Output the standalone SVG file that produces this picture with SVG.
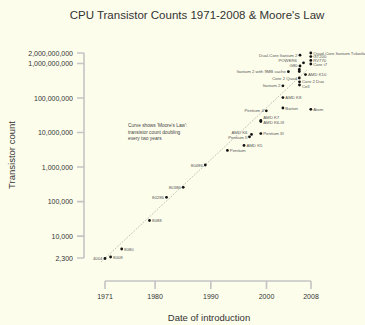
<svg xmlns="http://www.w3.org/2000/svg" width="365" height="325" viewBox="0 0 365 325">
<style>
text{font-family:"Liberation Sans",Arial,sans-serif;fill:#333}
.title{font-size:11.5px;text-anchor:middle}
.axt{font-size:9.5px;text-anchor:middle}
.yl{font-size:7px;text-anchor:end}
.xl{font-size:7px;text-anchor:middle}
.axis{stroke:#c4c4c4;stroke-width:1.6;fill:none}
.lab{font-size:4.3px;fill:#555}
.L{text-anchor:end}
.note{font-size:4.8px;fill:#444}
.pt{fill:#111}
.moore{stroke:#777;stroke-width:0.6;stroke-dasharray:1 1.4;fill:none}
</style>
<rect width="365" height="325" fill="#fdfdec"/>
<text class="title" x="197" y="19">CPU Transistor Counts 1971-2008 &amp; Moore's Law</text>
<g id="y-axis">
<path class="axis" d="M84 53V258M77 53H84M77 63.5H84M77 98H84M77 132.5H84M77 167H84M77 201.6H84M77 236.1H84M77 258H84"/>
<text class="yl" x="73" y="55.5">2,000,000,000</text>
<text class="yl" x="73" y="66">1,000,000,000</text>
<text class="yl" x="73" y="100.5">100,000,000</text>
<text class="yl" x="73" y="135">10,000,000</text>
<text class="yl" x="73" y="169.5">1,000,000</text>
<text class="yl" x="73" y="204">100,000</text>
<text class="yl" x="73" y="238.6">10,000</text>
<text class="yl" x="73" y="260.5">2,300</text>
<text class="axt" transform="translate(15 155) rotate(-90)">Transistor count</text>
</g>
<g id="x-axis">
<path class="axis" d="M105 281H311M105 281V289M155.1 281V289M210.8 281V289M266.5 281V289M311 281V289"/>
<text class="xl" x="105" y="299">1971</text>
<text class="xl" x="155.1" y="299">1980</text>
<text class="xl" x="210.8" y="299">1990</text>
<text class="xl" x="266.5" y="299">2000</text>
<text class="xl" x="311" y="299">2008</text>
<text class="axt" x="209" y="321">Date of introduction</text>
</g>
<g id="connectors">
<path class="moore" d="M101 262L307 70"/>
</g>
<g id="note">
<text class="note" x="128" y="127">Curve shows 'Moore's Law':</text>
<text class="note" x="128" y="133.5">transistor count doubling</text>
<text class="note" x="128" y="140">every two years</text>
</g>
<g id="p4004"><circle class="pt" cx="105" cy="258.5" r="1.4"/><text class="lab L" x="102.5" y="260">4004</text></g>
<g id="p8008"><circle class="pt" cx="110.6" cy="257" r="1.4"/><text class="lab" x="113" y="258.5">8008</text></g>
<g id="p8080"><circle class="pt" cx="121.7" cy="249" r="1.4"/><text class="lab" x="124" y="250.5">8080</text></g>
<g id="p8088"><circle class="pt" cx="149.5" cy="220.5" r="1.4"/><text class="lab" x="152" y="222">8088</text></g>
<g id="p80286"><circle class="pt" cx="166.5" cy="197.3" r="1.4"/><text class="lab L" x="164" y="198.8">80286</text></g>
<g id="p80386"><circle class="pt" cx="183.2" cy="187.3" r="1.4"/><text class="lab L" x="180.7" y="188.8">80386</text></g>
<g id="p80486"><circle class="pt" cx="205.3" cy="165" r="1.4"/><text class="lab L" x="202.8" y="166.5">80486</text></g>
<g id="pPentium"><circle class="pt" cx="227.4" cy="150.4" r="1.4"/><text class="lab" x="229.8" y="151.9">Pentium</text></g>
<g id="pK5"><circle class="pt" cx="244" cy="145.4" r="1.4"/><text class="lab" x="246.4" y="146.9">AMD K5</text></g>
<g id="pPII"><circle class="pt" cx="249.5" cy="136.8" r="1.4"/><text class="lab L" x="247.5" y="138.6">Pentium II</text></g>
<g id="pK6"><circle class="pt" cx="251.5" cy="134.4" r="1.4"/><text class="lab L" x="247.5" y="133.6">AMD K6</text></g>
<g id="pPIII"><circle class="pt" cx="260.8" cy="133.6" r="1.4"/><text class="lab" x="263.2" y="135.1">Pentium III</text></g>
<g id="pK6III"><circle class="pt" cx="260.8" cy="121.5" r="1.4"/><text class="lab" x="263.2" y="123.9">AMD K6-III</text></g>
<g id="pK7"><circle class="pt" cx="260.8" cy="120.5" r="1.4"/><text class="lab" x="263.2" y="119.1">AMD K7</text></g>
<g id="pP4"><circle class="pt" cx="266.3" cy="110.8" r="1.4"/><text class="lab L" x="263.8" y="112.3">Pentium 4</text></g>
<g id="pBarton"><circle class="pt" cx="282.9" cy="108" r="1.4"/><text class="lab" x="285.3" y="109.5">Barton</text></g>
<g id="pAtom"><circle class="pt" cx="310.8" cy="109.3" r="1.4"/><text class="lab" x="313.2" y="110.8">Atom</text></g>
<g id="pK8"><circle class="pt" cx="282.9" cy="97.6" r="1.4"/><text class="lab" x="285.3" y="99.1">AMD K8</text></g>
<g id="pIt2"><circle class="pt" cx="282.9" cy="85.8" r="1.4"/><text class="lab L" x="280.4" y="87.3">Itanium 2</text></g>
<g id="pCell"><circle class="pt" cx="299.5" cy="85" r="1.4"/><text class="lab" x="302" y="87.6">Cell</text></g>
<g id="pC2D"><circle class="pt" cx="299.5" cy="81.8" r="1.4"/><text class="lab" x="302" y="82.6">Core 2 Duo</text></g>
<g id="pC2Q"><circle class="pt" cx="299.3" cy="78" r="1.4"/><text class="lab L" x="296.8" y="79.5">Core 2 Quad</text></g>
<g id="pK10"><circle class="pt" cx="305.5" cy="74.6" r="1.4"/><text class="lab" x="308" y="76.1">AMD K10</text></g>
<g id="pIt9"><circle class="pt" cx="288.4" cy="71.7" r="1.4"/><text class="lab L" x="285.9" y="73.2">Itanium 2 with 9MB cache</text></g>
<g id="pG80"><circle class="pt" cx="299.3" cy="71.5" r="1.4"/><circle class="pt" cx="299.3" cy="69.5" r="1.4"/></g>
<g id="pCorei7"><circle class="pt" cx="300" cy="66" r="1.4"/><text class="lab L" x="297.5" y="67.3">G80</text></g>
<g id="pPOWER6"><circle class="pt" cx="303.5" cy="62.8" r="1.4"/><text class="lab L" x="297" y="62">POWER6</text></g>
<g id="pDCIt2"><circle class="pt" cx="300" cy="55.2" r="1.4"/><text class="lab L" x="297.5" y="56.7">Dual-Core Itanium 2</text></g>
<g id="pTukwila"><circle class="pt" cx="310.8" cy="53" r="1.4"/><text class="lab" x="313.2" y="54.5">Quad-Core Itanium Tukwila</text></g>
<g id="pXeon"><circle class="pt" cx="310.8" cy="56.6" r="1.4"/><text class="lab" x="313.2" y="58.1">GT200</text></g>
<g id="pRV770"><circle class="pt" cx="310.8" cy="60.4" r="1.4"/><text class="lab" x="313.2" y="61.9">RV770</text></g>
<g id="pi7"><circle class="pt" cx="310.8" cy="64" r="1.4"/><text class="lab" x="313.2" y="65.5">Core i7</text></g>
</svg>
